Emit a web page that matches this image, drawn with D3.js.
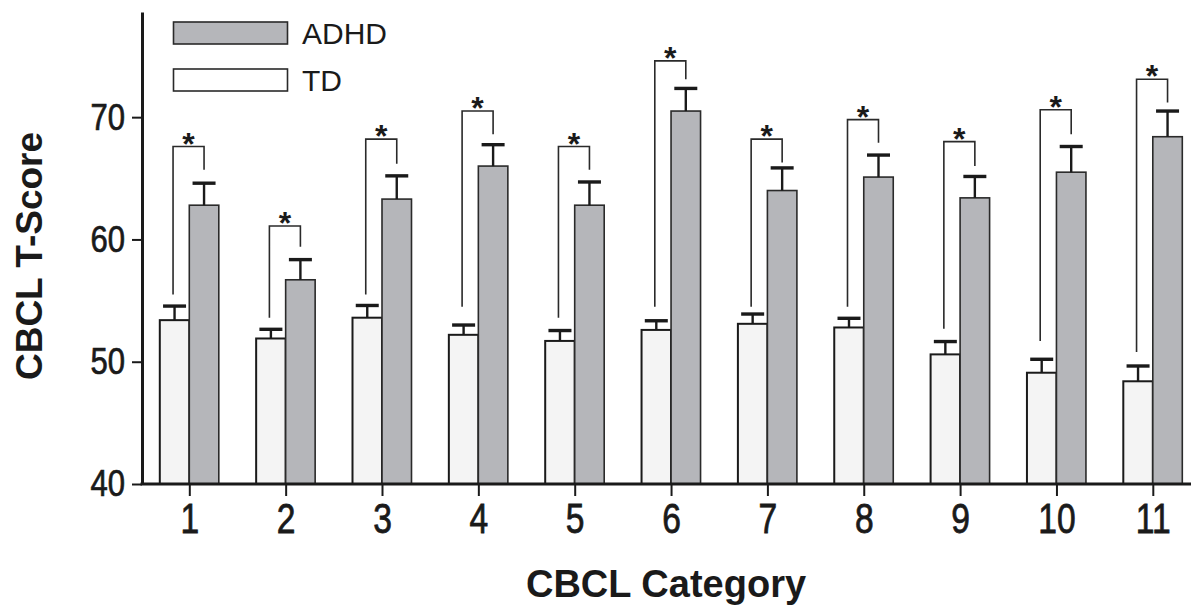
<!DOCTYPE html>
<html>
<head>
<meta charset="utf-8">
<script src="https://cdn.jsdelivr.net/npm/d3@7"></script>
<style>
  body { margin: 0; background: #fff; }
  svg { display: block; }
</style>
</head>
<body>
<svg id="chart" width="1191" height="607"></svg>
<script>
var categories = ["1", "2", "3", "4", "5", "6", "7", "8", "9", "10", "11"];
var tdMean = [53.4, 51.9, 53.6, 52.2, 51.7, 52.6, 53.1, 52.8, 50.6, 49.1, 48.4];
var tdErr = [1.15, 0.75, 1.0, 0.8, 0.85, 0.75, 0.8, 0.75, 1.05, 1.1, 1.25];
var adhdMean = [62.8, 56.7, 63.3, 66.0, 62.8, 70.5, 64.0, 65.1, 63.4, 65.5, 68.4];
var adhdErr = [1.8, 1.65, 1.9, 1.75, 1.9, 1.85, 1.85, 1.8, 1.75, 2.1, 2.1];
// significance brackets: top, end of left leg (TD side), end of right leg (ADHD side)
var sigTop = [67.6, 61.1, 68.2, 70.5, 67.6, 74.6, 68.2, 69.8, 68.0, 70.6, 73.1];
var sigLeftEnd = [55.5, 53.6, 55.5, 54.5, 53.6, 54.5, 54.5, 54.5, 52.7, 51.7, 50.8];
var sigRightEnd = [65.7, 59.4, 66.2, 68.6, 65.7, 73.1, 66.3, 67.9, 66.0, 68.6, 71.2];
var yTicks = [40, 50, 60, 70];

var textFont = '"Liberation Sans", Arial, Helvetica, sans-serif';

var svg = d3.select("#chart");
var width = 1191;
var left = 142, bottom = 484;
var barW = 29.5;
var squeeze = 0.84;   // tick labels are set in a condensed face

var x = d3.scalePoint()
    .domain(categories)
    .range([189.3, 1152.8]);

var y = d3.scaleLinear()
    .domain([40, 78.6])
    .range([bottom, 12]);

var tdX = function(i) { return x(categories[i]) - barW; };
var adX = function(i) { return x(categories[i]); };

// bars
var g = svg.append("g");

g.selectAll("rect.td")
    .data(tdMean)
    .enter()
    .append("rect")
    .attr("class", "td")
    .attr("x", function(d, i) { return tdX(i); })
    .attr("y", function(d) { return y(d); })
    .attr("width", barW)
    .attr("height", function(d) { return bottom - y(d); })
    .attr("fill", "#f4f4f4")
    .attr("stroke", "#1a1a1a")
    .attr("stroke-width", 2);

g.selectAll("rect.adhd")
    .data(adhdMean)
    .enter()
    .append("rect")
    .attr("class", "adhd")
    .attr("x", function(d, i) { return adX(i); })
    .attr("y", function(d) { return y(d); })
    .attr("width", barW)
    .attr("height", function(d) { return bottom - y(d); })
    .attr("fill", "#b5b6ba")
    .attr("stroke", "#2a2a2a")
    .attr("stroke-width", 1.6);

// error bars
function errorBars(means, errs, xf) {
    means.forEach(function(m, i) {
        var cx = xf(i) + barW / 2;
        g.append("line")
            .attr("x1", cx).attr("x2", cx)
            .attr("y1", y(m)).attr("y2", y(m + errs[i]))
            .attr("stroke", "#1a1a1a")
            .attr("stroke-width", 2.4);
        g.append("line")
            .attr("x1", cx - 11.5).attr("x2", cx + 11.5)
            .attr("y1", y(m + errs[i])).attr("y2", y(m + errs[i]))
            .attr("stroke", "#1a1a1a")
            .attr("stroke-width", 3.4);
    });
}
errorBars(tdMean, tdErr, tdX);
errorBars(adhdMean, adhdErr, adX);

// significance brackets
sigTop.forEach(function(t, i) {
    var x1 = tdX(i) + barW / 2 - 1.5;
    var x2 = adX(i) + barW / 2;
    g.append("path")
        .attr("d", "M" + x1 + "," + y(sigLeftEnd[i]) +
                   "V" + y(t) + "H" + x2 + "V" + y(sigRightEnd[i]))
        .attr("fill", "none")
        .attr("stroke", "#2a2a2a")
        .attr("stroke-width", 1.6);
    g.append("text")
        .attr("x", (x1 + x2) / 2)
        .attr("y", y(t) + 8)
        .attr("text-anchor", "middle")
        .style("font-family", textFont)
        .style("font-weight", "bold")
        .style("font-size", "32px")
        .style("fill", "#1a1a1a")
        .text("*");
});

// y axis
var yAxis = d3.axisLeft(y)
    .tickValues(yTicks)
    .tickSize(10)
    .tickSizeOuter(0)
    .tickPadding(7);

var yg = svg.append("g")
    .attr("transform", "translate(" + left + ",0)")
    .call(yAxis);
yg.select(".domain").attr("stroke", "#1a1a1a").attr("stroke-width", 3);
yg.selectAll(".tick line").attr("stroke", "#1a1a1a").attr("stroke-width", 2);
yg.selectAll(".tick text")
    .attr("x", -17 / squeeze)
    .attr("transform", "scale(" + squeeze + ",1)")
    .style("font-family", textFont)
    .style("font-size", "37px")
    .style("fill", "#1a1a1a")
    .style("stroke", "#1a1a1a")
    .style("stroke-width", 0.7);

// x axis
var xAxis = d3.axisBottom(x)
    .tickSize(12)
    .tickSizeOuter(0)
    .tickPadding(7);

var xg = svg.append("g")
    .attr("transform", "translate(0," + bottom + ")")
    .call(xAxis);
xg.select(".domain").remove();
xg.append("line")
    .attr("x1", left - 1.5).attr("x2", width)
    .attr("y1", 0).attr("y2", 0)
    .attr("stroke", "#1a1a1a")
    .attr("stroke-width", 3);
xg.selectAll(".tick line").attr("stroke", "#1a1a1a").attr("stroke-width", 2);
xg.selectAll(".tick text")
    .attr("transform", "scale(" + (squeeze - 0.04) + ",1)")
    .style("font-family", textFont)
    .style("font-size", "42px")
    .style("fill", "#1a1a1a")
    .style("stroke", "#1a1a1a")
    .style("stroke-width", 0.8);

// axis titles
svg.append("text")
    .attr("x", 666)
    .attr("y", 597)
    .attr("text-anchor", "middle")
    .style("font-family", textFont)
    .style("font-weight", "bold")
    .style("font-size", "38px")
    .style("fill", "#1a1a1a")
    .text("CBCL Category");

svg.append("text")
    .attr("transform", "translate(42,256) rotate(-90)")
    .attr("text-anchor", "middle")
    .style("font-family", textFont)
    .style("font-weight", "bold")
    .style("font-size", "37px")
    .style("fill", "#1a1a1a")
    .text("CBCL T-Score");

// legend
var legend = [
    {label: "ADHD", fill: "#b5b6ba", top: 22},
    {label: "TD", fill: "#ffffff", top: 69}
];
var lg = svg.append("g");
lg.selectAll("rect")
    .data(legend)
    .enter()
    .append("rect")
    .attr("x", 173.5)
    .attr("y", function(d) { return d.top; })
    .attr("width", 114)
    .attr("height", 22)
    .attr("fill", function(d) { return d.fill; })
    .attr("stroke", "#2a2a2a")
    .attr("stroke-width", 1.6);
lg.selectAll("text")
    .data(legend)
    .enter()
    .append("text")
    .attr("x", 302)
    .attr("y", function(d) { return d.top + 22; })
    .style("font-family", textFont)
    .style("font-size", "30px")
    .style("fill", "#1a1a1a")
    .text(function(d) { return d.label; });
</script>
</body>
</html>
